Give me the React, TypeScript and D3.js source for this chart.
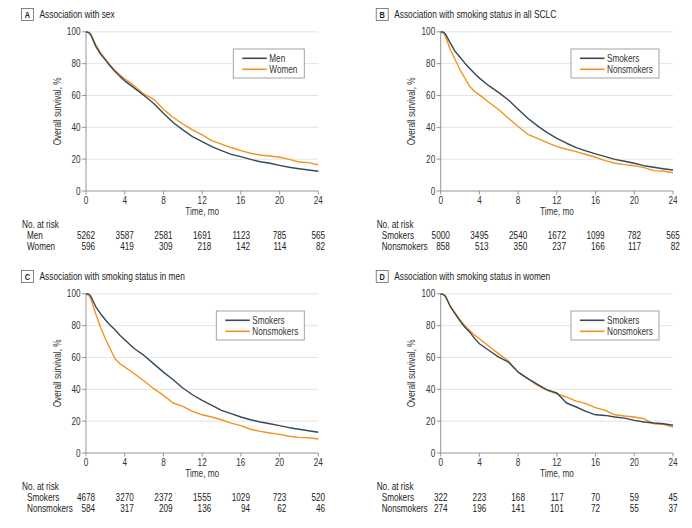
import React from "react";
import * as d3 from "d3";

const months = [0, 0.3, 0.5, 1, 1.5, 2, 2.5, 3, 3.5, 4, 5, 6, 7, 8, 9, 10, 11, 12, 13, 14, 15, 16, 17, 18, 19, 20, 21, 22, 23, 24];

const menA = [100, 99.5, 98, 91, 86, 82.4, 78.5, 75, 72, 69.2, 64.6, 60, 55, 48.8, 43, 38.4, 34.2, 31, 27.9, 25.4, 23, 21.6, 19.9, 18.4, 17.4, 16.1, 14.9, 14, 13.2, 12.4];
const womenA = [100, 99.5, 98.5, 92, 87, 82.8, 79, 75.7, 73, 70.4, 66, 60.8, 57.6, 51.4, 46.3, 42.1, 38.4, 35.2, 31.7, 29.4, 27.3, 25.4, 23.7, 22.6, 22, 21.2, 19.9, 18.2, 17.8, 16.4];
const smokersB = [100, 99.8, 98.5, 92.9, 87.6, 84, 80.3, 77, 73.8, 70.9, 66, 61.8, 57.2, 51.4, 45.7, 40.9, 36.7, 33.1, 30, 27.3, 25.2, 23.3, 21.6, 19.9, 18.7, 17.4, 15.9, 14.9, 14, 13.2];
const nonsmokersB = [100, 99, 97, 88.7, 82.4, 76, 70.9, 65.6, 62.5, 60.4, 55.6, 51, 45.7, 40.5, 35.6, 33.1, 30.4, 27.9, 26.2, 24.7, 22.9, 21.2, 19.1, 17.4, 16.6, 15.9, 14.7, 12.8, 12.6, 11.5];
const smokersC = [100, 99.8, 98.5, 92, 87.5, 83.7, 80.3, 77.4, 74, 71.1, 65.5, 61.3, 56, 50.8, 46, 40.8, 36.6, 33, 29.9, 26.8, 24.7, 22.6, 20.9, 19.5, 18.4, 17.2, 15.9, 14.9, 14, 13];
const nonsmokersC = [100, 99, 96.9, 87.4, 79, 71.8, 65.5, 59.2, 56.1, 54, 49.8, 45.2, 40.4, 36.2, 31.4, 29.3, 26.2, 24, 22.6, 20.9, 18.8, 17.2, 14.9, 13.6, 12.6, 11.7, 10.5, 9.8, 9.6, 8.8];
const smokersD = [100, 99.5, 98.5, 92, 87.4, 82.8, 79, 75.9, 72, 68.6, 64.4, 60.2, 57.1, 50.8, 46.7, 43.1, 39.7, 37.7, 31.4, 28.9, 26.2, 24, 23.6, 22.6, 21.9, 20.5, 19.5, 18.8, 18.4, 17.4];
const nonsmokersD = [100, 99.5, 98, 92, 87.9, 83.7, 80, 77, 74, 71.8, 66.9, 62.3, 57.7, 50.8, 46.7, 42.5, 39.3, 37.2, 35.1, 32.6, 31, 28.5, 26.8, 24, 23.2, 22.6, 21.5, 18.4, 18, 16.3];

const riskTimes = [0, 4, 8, 12, 16, 20, 24];
const riskMenA = [5262, 3587, 2581, 1691, 1123, 785, 565];
const riskWomenA = [596, 419, 309, 218, 142, 114, 82];
const riskSmokersB = [5000, 3495, 2540, 1672, 1099, 782, 565];
const riskNonsmokersB = [858, 513, 350, 237, 166, 117, 82];
const riskSmokersC = [4678, 3270, 2372, 1555, 1029, 723, 520];
const riskNonsmokersC = [584, 317, 209, 136, 94, 62, 46];
const riskSmokersD = [322, 223, 168, 117, 70, 59, 45];
const riskNonsmokersD = [274, 196, 141, 101, 72, 55, 37];

const xTicks = [0, 4, 8, 12, 16, 20, 24];
const yTicks = [0, 20, 40, 60, 80, 100];

const DARK = "#34495a";
const ORANGE = "#f5921e";
const FONT = "'Liberation Sans', Arial, sans-serif";
const SX = 0.82; // narrow face emulation

type TProps = {
  x: number;
  y: number;
  size?: number;
  anchor?: "start" | "middle" | "end";
  rotate?: number;
  weight?: string;
  fill?: string;
  children: React.ReactNode;
};

function T({ x, y, size = 10, anchor = "start", rotate = 0, weight = "normal", fill = "#222", children }: TProps) {
  return (
    <text
      transform={`translate(${x},${y})${rotate ? ` rotate(${rotate})` : ""} scale(${SX},1)`}
      fontSize={size}
      textAnchor={anchor}
      fontWeight={weight}
      fill={fill}
    >
      {children}
    </text>
  );
}

type PanelProps = {
  dx: number;
  dy: number;
  letter: string;
  title: string;
  names: [string, string];
  s1: number[];
  s2: number[];
  r1: number[];
  r2: number[];
  legendW: number;
};

function Panel({ dx, dy, letter, title, names, s1, s2, r1, r2, legendW }: PanelProps) {
  const x0 = 86 + dx;
  const x1 = 318.3 + dx;
  const yTop = 31.8 + dy;
  const yBot = 191 + dy;
  const x = d3.scaleLinear().domain([0, 24]).range([x0, x1]);
  const y = d3.scaleLinear().domain([0, 100]).range([yBot, yTop]);
  const line = d3
    .line<number>()
    .x((_, i) => x(months[i]))
    .y((v) => y(v));
  const lx = x1 - 14 - legendW;
  const ly = 49 + dy;
  const digitW = 4.56;
  return (
    <g>
      <rect x={21.5 + dx} y={8.5 + dy} width={12} height={12} fill="#fff" stroke="#666" strokeWidth={0.8} />
      <T x={27.5 + dx} y={17.8 + dy} size={9} weight="bold" anchor="middle">{letter}</T>
      <T x={39.5 + dx} y={18 + dy} size={10.2}>{title}</T>
      {yTicks.filter((t) => t > 0).map((t) => (
        <line key={"g" + t} x1={x0} x2={x1} y1={y(t)} y2={y(t)} stroke="#dcdcdc" strokeWidth={0.8} />
      ))}
      <line x1={x0} x2={x0} y1={yTop} y2={yBot} stroke="#8a8a8a" strokeWidth={0.9} />
      <line x1={x0} x2={x1} y1={yBot} y2={yBot} stroke="#8a8a8a" strokeWidth={0.9} />
      {yTicks.map((t) => (
        <g key={"y" + t}>
          <line x1={x0 - 4} x2={x0} y1={y(t)} y2={y(t)} stroke="#8a8a8a" strokeWidth={0.9} />
          <T x={x0 - 5.5} y={y(t) + 3.6} anchor="end" fill="#333">{t}</T>
        </g>
      ))}
      {xTicks.map((t) => (
        <g key={"x" + t}>
          <line x1={x(t)} x2={x(t)} y1={yBot} y2={yBot + 3.5} stroke="#8a8a8a" strokeWidth={0.9} />
          <T x={x(t)} y={yBot + 12.5} anchor="middle" fill="#333">{t}</T>
        </g>
      ))}
      <T x={60.5 + dx} y={(yTop + yBot) / 2} rotate={-90} anchor="middle" fill="#333">Overall survival, %</T>
      <T x={(x0 + x1) / 2} y={yBot + 23.5} anchor="middle" fill="#333">Time, mo</T>
      <path d={line(s2) || ""} fill="none" stroke={ORANGE} strokeWidth={1.4} strokeLinejoin="round" />
      <path d={line(s1) || ""} fill="none" stroke={DARK} strokeWidth={1.4} strokeLinejoin="round" />
      <rect x={lx} y={ly} width={legendW} height={29} fill="#fff" stroke="#9a9a9a" strokeWidth={0.9} />
      <line x1={lx + 9} x2={lx + 33.5} y1={ly + 9.3} y2={ly + 9.3} stroke={DARK} strokeWidth={1.6} />
      <line x1={lx + 9} x2={lx + 33.5} y1={ly + 20.3} y2={ly + 20.3} stroke={ORANGE} strokeWidth={1.6} />
      <T x={lx + 36} y={ly + 12.8} fill="#333">{names[0]}</T>
      <T x={lx + 36} y={ly + 23.8} fill="#333">{names[1]}</T>
      <T x={22 + dx} y={228 + dy}>No. at risk</T>
      <T x={27 + dx} y={238.5 + dy}>{names[0]}</T>
      <T x={27 + dx} y={249.5 + dy}>{names[1]}</T>
      {riskTimes.map((t, i) => {
        const maxLen = Math.max(String(r1[i]).length, String(r2[i]).length);
        const rx = x(t) + (maxLen * digitW) / 2;
        return (
          <g key={"r" + t}>
            <T x={rx} y={238.5 + dy} anchor="end">{r1[i]}</T>
            <T x={rx} y={249.5 + dy} anchor="end">{r2[i]}</T>
          </g>
        );
      })}
    </g>
  );
}

export default function App() {
  return (
    <svg
      width={692}
      height={528}
      style={{ position: "absolute", left: 0, top: 0, background: "#fff" }}
      fontFamily={FONT}
    >
      <rect x={0} y={0} width={692} height={528} fill="#fff" />
      <Panel dx={0} dy={0} letter="A" title="Association with sex" names={["Men", "Women"]} s1={menA} s2={womenA} r1={riskMenA} r2={riskWomenA} legendW={71} />
      <Panel dx={354.7} dy={0} letter="B" title="Association with smoking status in all SCLC" names={["Smokers", "Nonsmokers"]} s1={smokersB} s2={nonsmokersB} r1={riskSmokersB} r2={riskNonsmokersB} legendW={88} />
      <Panel dx={0} dy={262} letter="C" title="Association with smoking status in men" names={["Smokers", "Nonsmokers"]} s1={smokersC} s2={nonsmokersC} r1={riskSmokersC} r2={riskNonsmokersC} legendW={88} />
      <Panel dx={354.7} dy={262} letter="D" title="Association with smoking status in women" names={["Smokers", "Nonsmokers"]} s1={smokersD} s2={nonsmokersD} r1={riskSmokersD} r2={riskNonsmokersD} legendW={88} />
    </svg>
  );
}
